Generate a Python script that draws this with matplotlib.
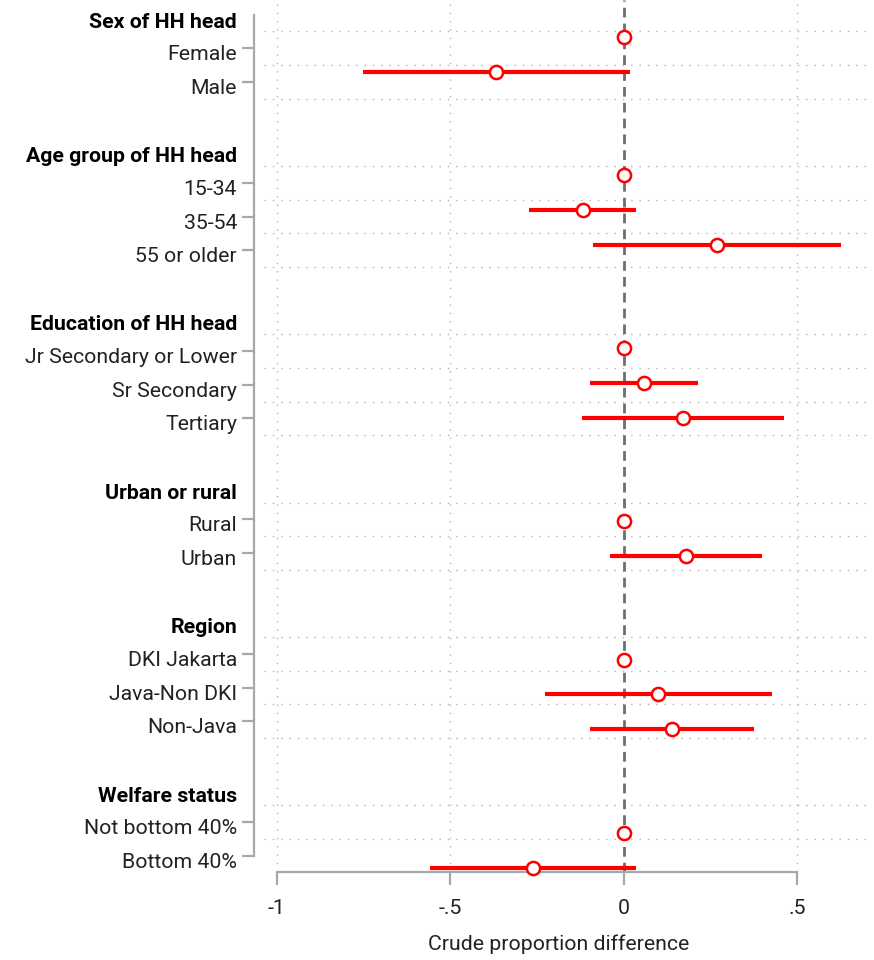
import matplotlib
matplotlib.use("Agg")
import matplotlib.pyplot as plt
import matplotlib.transforms as mtransforms

plt.rcParams['font.family'] = ['Roboto', 'DejaVu Sans']

groups = ["Sex of HH head", "Age group of HH head", "Education of HH head",
          "Urban or rural", "Region", "Welfare status"]
items = [["Female", "Male"],
         ["15-34", "35-54", "55 or older"],
         ["Jr Secondary or Lower", "Sr Secondary", "Tertiary"],
         ["Rural", "Urban"],
         ["DKI Jakarta", "Java-Non DKI", "Non-Java"],
         ["Not bottom 40%", "Bottom 40%"]]
est = [[0, -0.368], [0, -0.119, 0.268], [0, 0.057, 0.170],
       [0, 0.178], [0, 0.098, 0.138], [0, -0.263]]
lo = [[0, -0.751], [0, -0.273, -0.088], [0, -0.098, -0.120],
      [0, -0.040], [0, -0.227, -0.097], [0, -0.558]]
hi = [[0, 0.017], [0, 0.035, 0.625], [0, 0.214, 0.461],
      [0, 0.398], [0, 0.426, 0.374], [0, 0.035]]
xticks = [-1, -0.5, 0, 0.5]
xticklabels = ["-1", "-.5", "0", ".5"]

RED = "#ff0000"
GRID = "#b4b4b4"
AX = "#a8a8a8"
TXT = "#222222"
FS = 15.3

# row layout: header row, item rows, one blank row
head_rows, item_rows, item_labels = [], [], []
r = 0
for g, its in zip(groups, items):
    head_rows.append(r)
    for k, lab in enumerate(its):
        item_rows.append(r + 1 + k)
        item_labels.append(lab)
    r += len(its) + 2
last_row = item_rows[-1]

W, H = 874, 960
fig = plt.figure(figsize=(W / 100, H / 100), dpi=100)
rect = [264 / W, (H - 872) / H, (870 - 264) / W, 872 / H]

# label axis (its own vertical scale, as in the original)
ax2 = fig.add_axes(rect)
ax2.set_zorder(0)
ax2.set_xlim(0, 1)
ax2.set_ylim(25.48, -0.435)
for s in ["top", "right", "bottom"]:
    ax2.spines[s].set_visible(False)
ax2.spines['left'].set_position(('outward', 7))
ax2.spines['left'].set_bounds(0, last_row)
ax2.spines['left'].set_color(AX)
ax2.spines['left'].set_linewidth(1.6)
ax2.set_xticks([])
ax2.set_yticks(item_rows)
ax2.set_yticklabels([])
ax2.tick_params(axis='y', which='major', length=9, width=1.6, color=AX)
grid_rows = sorted(head_rows + item_rows)[:-1]
ax2.set_yticks([g + 0.5 for g in grid_rows], minor=True)
ax2.tick_params(axis='y', which='minor', length=0)
ax2.grid(True, which='minor', axis='y', color=GRID, linestyle=(0, (1, 5)), linewidth=1.0)

tr = ax2.get_yaxis_transform()
off_item = mtransforms.ScaledTranslation(-27 / 100, -6.5 / 100, fig.dpi_scale_trans)
off_head = mtransforms.ScaledTranslation(-27 / 100, -7.5 / 100, fig.dpi_scale_trans)
for y, lab in zip(item_rows, item_labels):
    ax2.text(0, y, lab, transform=tr + off_item, ha='right', va='center',
             fontsize=FS, color=TXT)
for y, g in zip(head_rows, groups):
    ax2.text(0, y, g, transform=tr + off_head, ha='right', va='center',
             fontsize=FS, fontweight='bold', color='black')

# plot axis
ax = fig.add_axes(rect)
ax.set_zorder(1)
ax.patch.set_visible(False)
ax.set_xlim(-1.037, 0.709)
ax.set_ylim(25.13, -0.069)
for s in ["top", "right", "left"]:
    ax.spines[s].set_visible(False)
ax.spines['bottom'].set_bounds(-1, 0.5)
ax.spines['bottom'].set_color(AX)
ax.spines['bottom'].set_linewidth(1.6)
ax.set_yticks([])
ax.set_xticks(xticks)
ax.set_xticklabels(xticklabels, fontsize=FS, color=TXT)
ax.tick_params(axis='x', length=9.5, width=1.6, color=AX, pad=10)
for x in xticks:
    if x != 0:
        ax.axvline(x, color=GRID, linestyle=(0, (1, 5)), linewidth=1.0, zorder=0)
ax.axvline(0, color="#6e6e6e", linestyle=(0, (3.5, 2.2)), linewidth=2.0, zorder=1)

e = [v for grp in est for v in grp]
l = [v for grp in lo for v in grp]
h = [v for grp in hi for v in grp]
ax.hlines(item_rows, l, h, color=RED, linewidth=3.0, zorder=2)
ax.plot(e, item_rows, 'o', markersize=9.5, markerfacecolor='white',
        markeredgecolor=RED, markeredgewidth=1.8, zorder=3, clip_on=False)

fig.text(559 / W, 1 - 944 / H, "Crude proportion difference", ha='center', va='center',
         fontsize=FS, color=TXT)

fig.savefig("out.png", dpi=100)
